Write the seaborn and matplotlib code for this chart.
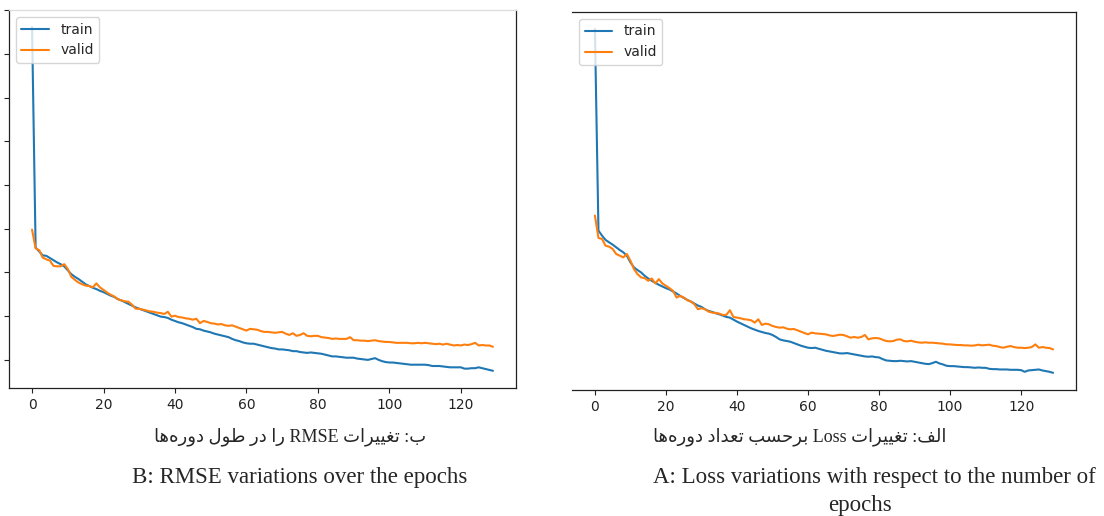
import re

import matplotlib
matplotlib.use("Agg")
import matplotlib.pyplot as plt
from matplotlib.ticker import MultipleLocator
import numpy as np
import seaborn as sns

sns.set_theme(style="ticks", context="notebook",
              rc={"xtick.labelsize": 10, "ytick.labelsize": 10,
                  "legend.fontsize": 10, "lines.linewidth": 1.5})
plt.rcParams["font.family"] = ["DejaVu Sans"]

# ---- data (130 epochs each) ----
epochs = np.arange(130)

train_rmse = [
    0.861, 0.357, 0.348, 0.339, 0.338, 0.333, 0.328, 0.323, 0.319, 0.314,
    0.305, 0.296, 0.290, 0.285, 0.279, 0.273, 0.269, 0.265, 0.262, 0.258,
    0.255, 0.251, 0.247, 0.244, 0.239, 0.236, 0.232, 0.228, 0.224, 0.220,
    0.217, 0.214, 0.211, 0.208, 0.205, 0.202, 0.199, 0.198, 0.196, 0.192,
    0.189, 0.186, 0.184, 0.181, 0.178, 0.175, 0.171, 0.170, 0.167, 0.165,
    0.163, 0.160, 0.158, 0.156, 0.154, 0.152, 0.148, 0.145, 0.143, 0.140,
    0.138, 0.137, 0.137, 0.135, 0.133, 0.131, 0.129, 0.127, 0.126, 0.124,
    0.124, 0.123, 0.122, 0.120, 0.120, 0.118, 0.117, 0.116, 0.117, 0.116,
    0.115, 0.114, 0.112, 0.110, 0.108, 0.108, 0.107, 0.106, 0.105, 0.105,
    0.105, 0.103, 0.102, 0.101, 0.100, 0.102, 0.104, 0.100, 0.097, 0.095,
    0.094, 0.094, 0.093, 0.092, 0.091, 0.090, 0.089, 0.089, 0.089, 0.089,
    0.089, 0.088, 0.086, 0.086, 0.086, 0.085, 0.084, 0.083, 0.083, 0.083,
    0.083, 0.080, 0.080, 0.081, 0.081, 0.083, 0.081, 0.079, 0.077, 0.075,
]
valid_rmse = [
    0.398, 0.355, 0.351, 0.334, 0.330, 0.327, 0.315, 0.314, 0.314, 0.319,
    0.308, 0.290, 0.283, 0.277, 0.273, 0.270, 0.269, 0.266, 0.275, 0.266,
    0.260, 0.254, 0.249, 0.245, 0.239, 0.236, 0.234, 0.233, 0.226, 0.217,
    0.217, 0.215, 0.213, 0.211, 0.210, 0.208, 0.207, 0.205, 0.210, 0.199,
    0.201, 0.198, 0.197, 0.195, 0.194, 0.192, 0.194, 0.184, 0.189, 0.187,
    0.184, 0.183, 0.181, 0.182, 0.179, 0.178, 0.179, 0.176, 0.173, 0.170,
    0.167, 0.171, 0.170, 0.169, 0.166, 0.164, 0.164, 0.163, 0.162, 0.163,
    0.164, 0.160, 0.157, 0.161, 0.155, 0.157, 0.161, 0.155, 0.154, 0.155,
    0.155, 0.152, 0.151, 0.150, 0.148, 0.149, 0.148, 0.148, 0.148, 0.152,
    0.145, 0.145, 0.144, 0.144, 0.143, 0.144, 0.145, 0.143, 0.142, 0.141,
    0.141, 0.140, 0.139, 0.139, 0.139, 0.139, 0.138, 0.138, 0.139, 0.138,
    0.139, 0.138, 0.137, 0.136, 0.137, 0.135, 0.137, 0.135, 0.133, 0.134,
    0.133, 0.135, 0.134, 0.136, 0.139, 0.133, 0.134, 0.133, 0.133, 0.130,
]
train_loss = [
    1.112, 0.510, 0.495, 0.482, 0.475, 0.468, 0.460, 0.452, 0.445, 0.435,
    0.415, 0.400, 0.392, 0.385, 0.375, 0.367, 0.360, 0.354, 0.348, 0.343,
    0.338, 0.334, 0.328, 0.322, 0.315, 0.309, 0.303, 0.298, 0.292, 0.286,
    0.282, 0.275, 0.270, 0.267, 0.263, 0.260, 0.256, 0.252, 0.250, 0.244,
    0.238, 0.233, 0.228, 0.223, 0.218, 0.214, 0.210, 0.207, 0.204, 0.202,
    0.198, 0.192, 0.185, 0.182, 0.180, 0.178, 0.174, 0.170, 0.166, 0.163,
    0.160, 0.159, 0.160, 0.157, 0.154, 0.151, 0.149, 0.147, 0.145, 0.143,
    0.143, 0.144, 0.142, 0.140, 0.138, 0.136, 0.134, 0.133, 0.134, 0.132,
    0.131, 0.126, 0.122, 0.121, 0.120, 0.120, 0.121, 0.120, 0.119, 0.120,
    0.118, 0.116, 0.114, 0.112, 0.111, 0.114, 0.118, 0.113, 0.110, 0.106,
    0.105, 0.105, 0.104, 0.103, 0.102, 0.102, 0.101, 0.100, 0.101, 0.100,
    0.100, 0.097, 0.096, 0.096, 0.095, 0.095, 0.095, 0.094, 0.094, 0.094,
    0.093, 0.088, 0.092, 0.093, 0.094, 0.095, 0.092, 0.090, 0.088, 0.085,
]
valid_loss = [
    0.555, 0.488, 0.485, 0.465, 0.462, 0.455, 0.440, 0.435, 0.430, 0.440,
    0.420, 0.395, 0.380, 0.370, 0.368, 0.360, 0.367, 0.352, 0.365, 0.352,
    0.345, 0.338, 0.330, 0.310, 0.315, 0.310, 0.302, 0.298, 0.290, 0.275,
    0.278, 0.275, 0.268, 0.265, 0.264, 0.262, 0.258, 0.258, 0.272, 0.252,
    0.250, 0.248, 0.245, 0.244, 0.242, 0.235, 0.245, 0.228, 0.232, 0.230,
    0.225, 0.222, 0.220, 0.221, 0.217, 0.215, 0.216, 0.212, 0.208, 0.204,
    0.200, 0.205, 0.203, 0.202, 0.201, 0.200, 0.197, 0.195, 0.197, 0.199,
    0.198, 0.194, 0.190, 0.192, 0.190, 0.192, 0.198, 0.185, 0.188, 0.189,
    0.188, 0.184, 0.180, 0.179, 0.180, 0.184, 0.185, 0.180, 0.179, 0.181,
    0.178, 0.176, 0.175, 0.176, 0.175, 0.175, 0.174, 0.173, 0.172, 0.170,
    0.170, 0.169, 0.168, 0.168, 0.167, 0.167, 0.166, 0.167, 0.169, 0.167,
    0.168, 0.169, 0.166, 0.165, 0.162, 0.160, 0.163, 0.165, 0.162, 0.160,
    0.160, 0.159, 0.160, 0.162, 0.170, 0.160, 0.162, 0.160, 0.159, 0.155,
]

caption_fa_rmse = "ب: تغییرات RMSE را در طول دوره\u200cها"
caption_en_rmse = "B: RMSE variations over the epochs"
caption_fa_loss = "الف: تغییرات Loss برحسب تعداد دوره\u200cها"
caption_en_loss = ["A: Loss variations with respect to the number of", "epochs"]

# ---- minimal Persian shaping + RTL ordering (matplotlib has no text shaping) ----
# isolated, final, initial, medial presentation forms
_FORMS = {
    "ا": ("\uFE8D", "\uFE8E", None, None),
    "ب": ("\uFE8F", "\uFE90", "\uFE91", "\uFE92"),
    "ت": ("\uFE95", "\uFE96", "\uFE97", "\uFE98"),
    "ح": ("\uFEA1", "\uFEA2", "\uFEA3", "\uFEA4"),
    "د": ("\uFEA9", "\uFEAA", None, None),
    "ر": ("\uFEAD", "\uFEAE", None, None),
    "س": ("\uFEB1", "\uFEB2", "\uFEB3", "\uFEB4"),
    "ط": ("\uFEC1", "\uFEC2", "\uFEC3", "\uFEC4"),
    "ع": ("\uFEC9", "\uFECA", "\uFECB", "\uFECC"),
    "غ": ("\uFECD", "\uFECE", "\uFECF", "\uFED0"),
    "ف": ("\uFED1", "\uFED2", "\uFED3", "\uFED4"),
    "ل": ("\uFEDD", "\uFEDE", "\uFEDF", "\uFEE0"),
    "ه": ("\uFEE9", "\uFEEA", "\uFEEB", "\uFEEC"),
    "و": ("\uFEED", "\uFEEE", None, None),
    "ی": ("\uFEEF", "\uFEF0", "\uFEF3", "\uFEF4"),
}


def _shape(text):
    out = []
    for i, ch in enumerate(text):
        if ch not in _FORMS:
            if ch != "\u200c":
                out.append(ch)
            continue
        forms = _FORMS[ch]
        prev = i > 0 and text[i - 1] in _FORMS and _FORMS[text[i - 1]][2] is not None
        nxt = forms[2] is not None and i + 1 < len(text) and text[i + 1] in _FORMS
        if prev and nxt:
            out.append(forms[3])
        elif prev:
            out.append(forms[1])
        elif nxt:
            out.append(forms[2])
        else:
            out.append(forms[0])
    return "".join(out)


def rtl(text):
    runs = re.findall(r"[A-Za-z0-9]+|[^A-Za-z0-9]+", _shape(text))
    return "".join(r if re.match(r"[A-Za-z0-9]", r) else r[::-1] for r in reversed(runs))


# ---- figure ----
fig = plt.figure(figsize=(11.04, 5.16), dpi=100)
ax_r = fig.add_axes([0.00815, 0.24806, 0.45924, 0.73256])
ax_l = fig.add_axes([0.51812, 0.24419, 0.45652, 0.73256])

blue, orange = "#1f77b4", "#ff7f0e"

sns.lineplot(x=epochs, y=train_rmse, ax=ax_r, color=blue, label="train")
sns.lineplot(x=epochs, y=valid_rmse, ax=ax_r, color=orange, label="valid")
sns.lineplot(x=epochs, y=train_loss, ax=ax_l, color=blue, label="train")
sns.lineplot(x=epochs, y=valid_loss, ax=ax_l, color=orange, label="valid")

for ax in (ax_r, ax_l):
    ax.set_xticks(range(0, 121, 20))
    ax.tick_params(axis="both", direction="out", length=3.5, width=0.8,
                   colors="#222222", labelcolor="#222222")
    for sp in ax.spines.values():
        sp.set_linewidth(0.9)
        sp.set_color("#222222")
        sp.set_visible(True)
    ax.legend(loc="upper left", frameon=True, fancybox=True, framealpha=0.8,
              edgecolor="#cccccc", fontsize=10)
    ax.set_xlabel("")
    ax.set_ylabel("")

# RMSE panel: y ticks without labels, faint top border
ax_r.yaxis.set_major_locator(MultipleLocator(0.1))
ax_r.tick_params(axis="y", labelleft=False)
ax_r.spines["top"].set_color("#dddddd")

# Loss panel: cropped on the left, no y axis
ax_l.spines["left"].set_visible(False)
ax_l.tick_params(axis="y", left=False, labelleft=False)

# ---- captions ----
serif = ["Liberation Serif", "DejaVu Sans"]
fig.text(290 / 1104, 1 - 437 / 516, rtl(caption_fa_rmse), family=serif,
         fontsize=13, ha="center", va="center")
fig.text(300 / 1104, 1 - 478 / 516, caption_en_rmse, family=serif,
         fontsize=16.5, ha="center", va="center")
fig.text(800 / 1104, 1 - 437 / 516, rtl(caption_fa_loss), family=serif,
         fontsize=13, ha="center", va="center")
fig.text(874 / 1104, 1 - 478 / 516, caption_en_loss[0], family=serif,
         fontsize=16.5, ha="center", va="center")
fig.text(860 / 1104, 1 - 505 / 516, caption_en_loss[1], family=serif,
         fontsize=16.5, ha="center", va="center")

fig.savefig("out.png", dpi=100)
